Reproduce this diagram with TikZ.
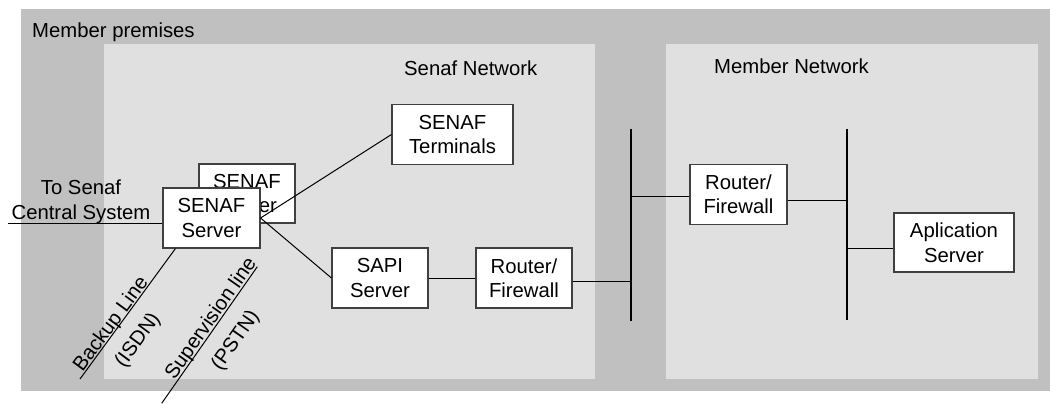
\documentclass[tikz,border=0pt]{standalone}
\usepackage{fontspec}
\setmainfont{Liberation Sans}
\usetikzlibrary{calc}
\definecolor{premgray}{HTML}{C0C0C0}
\definecolor{netgray}{HTML}{E0E0E0}
\definecolor{boxline}{HTML}{404040}
\begin{document}
\begin{tikzpicture}[x=1pt,y=-1pt,
  every node/.style={font=\fontsize{20.3}{24.5}\selectfont},
  devbox/.style={draw=boxline, fill=white, line width=1.1pt, align=center,
    inner sep=0pt, minimum height=60pt},
  link/.style={draw=black, line width=1pt},
  bus/.style={draw=black, line width=2pt},
  lbl/.style={inner sep=0pt, text=black}
]
\useasboundingbox (0,0) rectangle (1050,404);
% areas
\fill[premgray] (21,9) rectangle (1050,391);
\fill[netgray] (104,44) rectangle (595,379);
\fill[netgray] (666,44) rectangle (1038,379);
\node[lbl, anchor=base west] (prem) at (32,38) {Member premises};
\node[lbl, anchor=base west] (snet) at (404,75) {Senaf Network};
\node[lbl, anchor=base west] (mnet) at (714,74) {Member Network};
% devices
\node[devbox, minimum width=96pt, minimum height=59pt] (srvb) at (247,193.5) {SENAF\\Server};
\node[devbox, minimum width=97pt] (srv) at (211.5,218) {SENAF\\Server};
\node[devbox, minimum width=121pt] (term) at (452.5,134.5) {SENAF\\Terminals};
\node[devbox, minimum width=96pt] (sapi) at (380,278) {SAPI\\Server};
\node[devbox, minimum width=96pt] (rf1) at (524,278) {Router/\\Firewall};
\node[devbox, minimum width=97pt] (rf2) at (738.5,194.3) {Router/\\Firewall};
\node[devbox, minimum width=120pt, minimum height=59pt] (app) at (954,242.5) {Aplication\\Server};
% buses
\coordinate (b1t) at (631,129);
\coordinate (b1b) at (631,321);
\coordinate (b2t) at (847,129);
\coordinate (b2b) at (847,320);
\draw[bus] (b1t) -- (b1b);
\draw[bus] (b2t) -- (b2b);
% links
\draw[link] (srv.east) -- (term.west);
\draw[link] (srv.east) -- (sapi.west);
\draw[link] (sapi.east) -- (rf1.west);
\coordinate (r1o) at ($(rf1.east)+(0,3)$);
\draw[link] (r1o) -- (r1o -| b1t);
\coordinate (r2i) at ($(rf2.west)+(0,2.5)$);
\draw[link] (r2i -| b1t) -- (r2i);
\coordinate (r2o) at ($(rf2.east)+(0,6)$);
\draw[link] (r2o) -- (r2o -| b2t);
\coordinate (api) at ($(app.west)+(0,5.5)$);
\draw[link] (api -| b2t) -- (api);
% central system line
\coordinate (cs) at (8,223.5);
\draw[link] (cs) -- (cs -| srv.west);
\node[lbl, align=center] (cstxt) at (81,202) {To Senaf\\Central System};
% backup line
\coordinate (bkt) at ($(srv.south west)+(13,0)$);
\coordinate (bkb) at (80,379);
\draw[link] (bkt) -- (bkb);
\node[lbl, anchor=base, rotate=53.8] (bk1) at (115.7,327.8) {Backup Line};
\node[lbl, rotate=53.8] (bk2) at (138.1,340.5) {(ISDN)};
% supervision line
\coordinate (spt) at (257.3,266.7);
\coordinate (spb) at (161.7,403.3);
\draw[link] (spt) -- (spb);
\node[lbl, anchor=base, rotate=55] (sp1) at (215.8,321.8) {Supervision line};
\node[lbl, rotate=55] (sp2) at (235.9,340.8) {(PSTN)};
\end{tikzpicture}
\end{document}
